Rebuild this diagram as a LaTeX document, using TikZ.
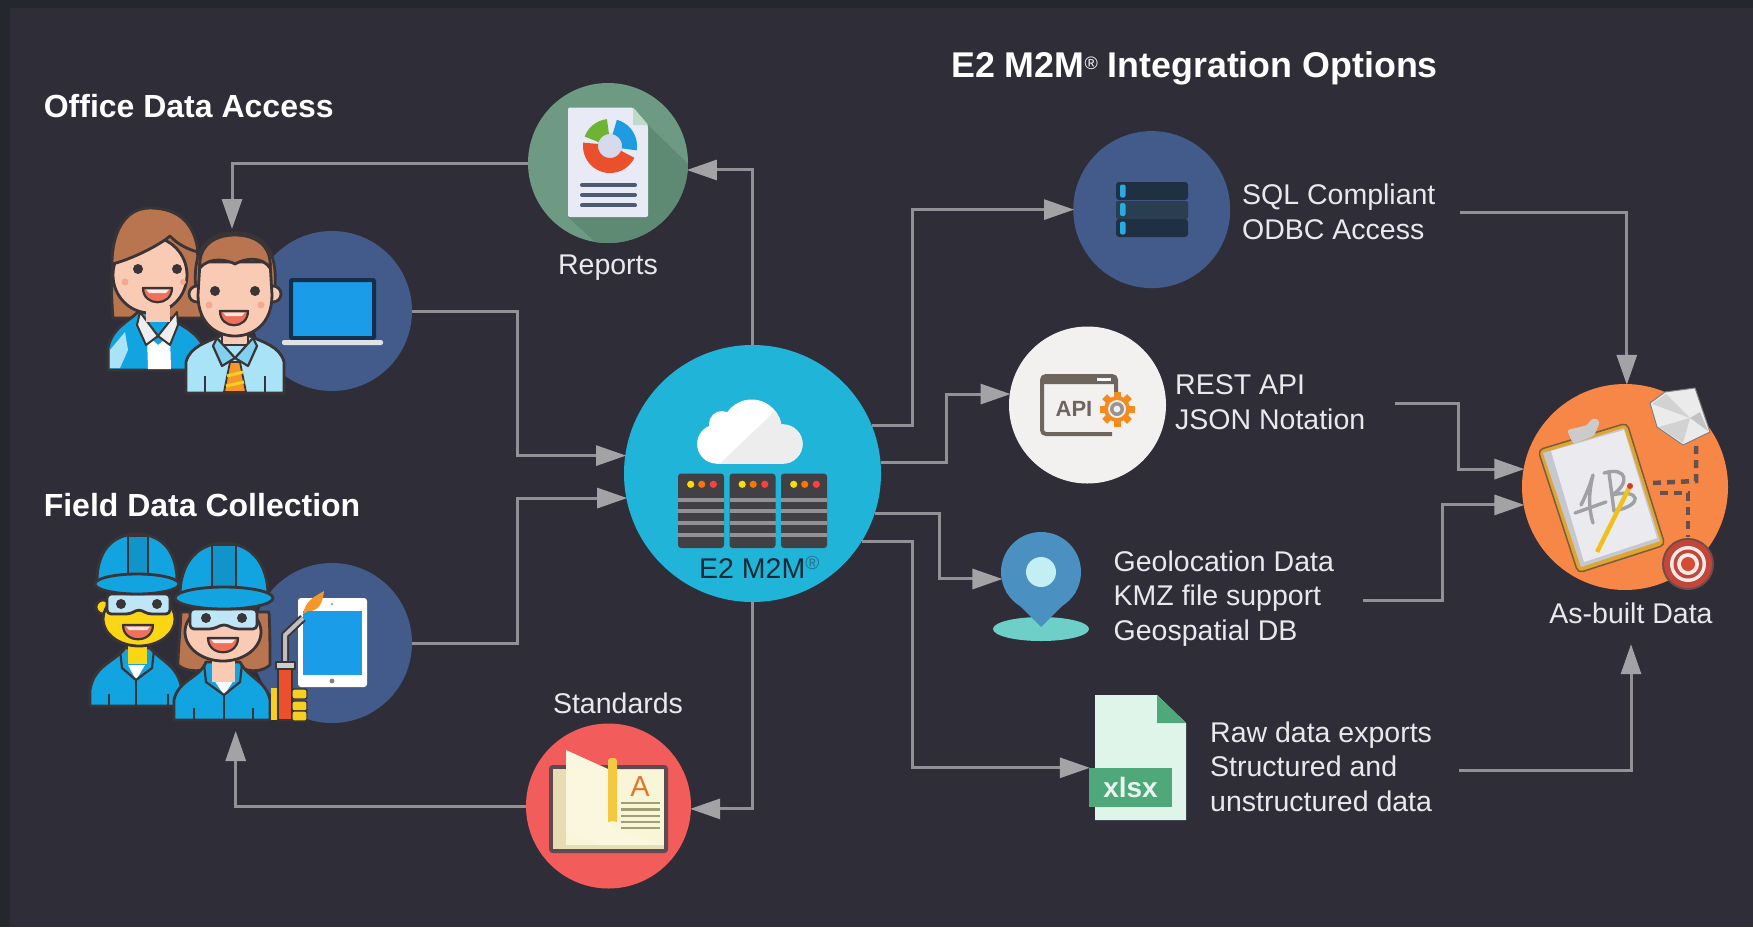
\documentclass[tikz,border=0pt]{standalone}
\usepackage{fontspec}
\setmainfont{Liberation Sans}
\usetikzlibrary{arrows.meta}
\definecolor{bgmain}{HTML}{2F2E38}
\definecolor{bgband}{HTML}{24272B}
\definecolor{wire}{HTML}{919196}
\definecolor{headc}{HTML}{A3A3A5}
\definecolor{txt}{HTML}{E9E9EB}
\definecolor{navy}{HTML}{425B8A}
\definecolor{ink}{HTML}{3B3436}
\definecolor{hair}{HTML}{B97450}
\definecolor{skin}{HTML}{F9CBB5}
\definecolor{jacket}{HTML}{12A4E0}
\definecolor{sky}{HTML}{A9E3F8}
\definecolor{scr}{HTML}{1B9CE8}
\definecolor{mouthc}{HTML}{F0705A}
\definecolor{gold}{HTML}{F5D020}
\definecolor{rackc}{HTML}{404045}
\definecolor{apig}{HTML}{6E665E}
\tikzset{
  x=1pt,y=-1pt,
  disc/.style={circle,inner sep=0pt,minimum size=#1},
  conn/.style={draw=wire,line width=3pt,-{Triangle[length=30pt,width=20pt,color=headc]},shorten >=-1pt},
  lbltext/.style={text=txt,font=\fontsize{28.5}{34.6}\selectfont,inner sep=0pt},
  blocktext/.style={lbltext,align=left,anchor=west},
  headt/.style={text=white,font=\bfseries\fontsize{32}{38}\selectfont,inner sep=0pt},
  outl/.style={draw=ink,line width=2.8pt,line join=round},
  eyedot/.style={fill=ink},
}
\newcommand{\cloudshape}{
  \fill (716.7,444) circle[radius=19.6pt];
  \fill (722,424) circle[radius=13pt];
  \fill (751.7,429.5) circle[radius=30pt];
  \fill (783,444) circle[radius=19.6pt];
  \fill (716,430) rectangle (783,463.6);
}
\newcommand{\rackunit}[1]{
  \fill[fill=rackc,rounded corners=3pt] (#1,473.6) rectangle ++(46,74.4);
  \foreach \yy in {500,511.4,523,535}{\fill[wire] (#1,\yy-2) rectangle ++(46,4);}
  \fill[fill=yellow!80!orange] (#1+12.7,484.3) circle[radius=3.6pt];
  \fill[fill=orange!90!red] (#1+23.7,484.3) circle[radius=3.6pt];
  \fill[fill=red!75!white] (#1+35.3,484.3) circle[radius=3.6pt];
}
\newcommand{\mouthshape}[4]{% x1 y1 x2 y2
  \draw[outl,fill=mouthc,line width=2.2pt] (#1,#2) -- (#3,#2) .. controls (#3,#4) and (#1,#4) .. (#1,#2) -- cycle;
  \fill[white!85!mouthc] (#1+3,#2+1.5) -- (#3-3,#2+1.5) -- (#3-6,#2+5) -- (#1+6,#2+5) -- cycle;
}
\begin{document}
\begin{tikzpicture}
\useasboundingbox (0,0) rectangle (1753,927);
\fill[bgband] (0,0) rectangle (1753,927);
\fill[bgmain] (10,8) rectangle (1753,927);

% --- circles and icons as nodes
\node[disc=160pt,fill=navy] (off) at (332,311) {};
\node[disc=160pt,fill=navy] (tab) at (332,643) {};
\node[disc=160pt,fill={rgb,255:red,110;green,154;blue,131}] (rep) at (608,163) {};
\node[disc=165pt,fill={rgb,255:red,242;green,92;blue,90}] (std) at (608.5,806) {};
\node[disc=257pt,fill={rgb,255:red,32;green,180;blue,216}] (e2) at (752.5,473.5) {};
\node[disc=157pt,fill=navy] (sql) at (1151.7,209.6) {};
\node[disc=157pt,fill={rgb,255:red,242;green,241;blue,239}] (api) at (1087.5,405) {};
\node[disc=206pt,fill={rgb,255:red,247;green,135;blue,70}] (ab) at (1625,487) {};

% --- text
\node[headt,anchor=west] (h1) at (43.6,106) {Office Data Access};
\node[headt,anchor=west] (h2) at (43.6,505) {Field Data Collection};
\node[headt,anchor=base west,font=\bfseries\fontsize{35.8}{40}\selectfont] (h3) at (951,77) {E2 M2M\raisebox{8pt}{\mdseries\fontsize{18}{18}\selectfont ®} Integration Options};
\node[lbltext] (lrep) at (608,268) {Reports};
\node[lbltext] (lstd) at (618,703) {Standards};
\node[blocktext] (tsql) at (1242,211.7) {SQL Compliant\\ODBC Access};
\node[blocktext] (tapi) at (1175,402) {REST API\\JSON Notation};
\node[blocktext] (tgeo) at (1113.5,598.5) {Geolocation Data\\KMZ file support\\Geospatial DB};
\node[blocktext] (txls) at (1210,766.5) {Raw data exports\\Structured and\\unstructured data};
\node[lbltext,minimum height=64pt] (lab) at (1631,613) {As-built Data};

% --- Reports icon
\begin{scope}
\clip (608,163) circle[radius=80pt];
\fill[fill={rgb,255:red,94;green,137;blue,114}] (648,125) -- (720,195) -- (720,270) -- (625,270) -- (568,217) -- (648,217) -- cycle;
\end{scope}
\fill[fill={rgb,255:red,232;green,234;blue,246},rounded corners=2pt] (568,107.5) -- (633,107.5) -- (648,125) -- (648,217) -- (568,217) -- cycle;
\fill[fill={rgb,255:red,190;green,218;blue,200}] (633,107.5) -- (648,125) -- (633,125) -- cycle;
\fill[fill={rgb,255:red,213;green,218;blue,236}] (610,146) circle[radius=13pt];
\draw[line width=15pt,color={rgb,255:red,235;green,80;blue,45}] plot[domain=172:335,samples=30] ({610+19.5*cos(\x)},{146-19.5*sin(\x)});
\draw[line width=15pt,color={rgb,255:red,30;green,155;blue,225}] plot[domain=-10:76,samples=20] ({610+19.5*cos(\x)},{146-19.5*sin(\x)});
\draw[line width=15pt,color={rgb,255:red,110;green,180;blue,50}] plot[domain=96:160,samples=20] ({610+19.5*cos(\x)},{146-19.5*sin(\x)});
\foreach \yy in {185,195,205.4}{\draw[line width=4pt,color={rgb,255:red,78;green,90;blue,112},line cap=round] (582,\yy) -- (635,\yy);}

% --- Standards icon
\draw[draw={rgb,255:red,94;green,74;blue,80},line width=4pt,fill={rgb,255:red,249;green,245;blue,215},rounded corners=2pt] (551,767) rectangle (666,851);
\fill[fill={rgb,255:red,232;green,220;blue,178}] (553,769) rectangle (566,845);
\fill[fill={rgb,255:red,228;green,222;blue,180}] (553,845) rectangle (664,849);
\fill[fill={rgb,255:red,251;green,247;blue,222}] (566,750) -- (608,769) -- (608,822) -- (620,830) -- (664,845) -- (600,845) -- (566,830) -- cycle;
\fill[fill={rgb,255:red,245;green,200;blue,66},rounded corners=3pt] (608,758) rectangle (617,820);
\fill[fill={rgb,255:red,245;green,200;blue,66}] (608,815) -- (617,815) -- (617,822) -- (612.5,821) -- (608,822) -- cycle;
\node[inner sep=0pt,text={rgb,255:red,226;green,119;blue,44},font=\fontsize{29}{29}\selectfont] (aa) at (640,787) {A};
\foreach \yy in {803,809.5,816,822,828}{\draw[line width=2.6pt,color={rgb,255:red,160;green,158;blue,118}] (621,\yy) -- (660,\yy);}

% --- E2 icon
\begin{scope}[fill=white]\cloudshape\end{scope}
\begin{scope}
\clip (780,406) -- (720,464) -- (810,464) -- (810,395) -- cycle;
\begin{scope}[fill={rgb,255:red,237;green,237;blue,237}]\cloudshape\end{scope}
\end{scope}
\rackunit{678}\rackunit{729.5}\rackunit{781}
\node[anchor=base west,inner sep=0pt,text={rgb,255:red,18;green,42;blue,56},font=\fontsize{28.5}{30}\selectfont] (le2) at (699,578.5) {E2 M2M\raisebox{9pt}{\fontsize{19}{19}\selectfont\color{rgb,255:red,40;green,110;blue,140}®}};

% --- SQL icon
\fill[fill={rgb,255:red,30;green,48;blue,66},rounded corners=3pt] (1116,182) rectangle (1188,200);
\fill[fill={rgb,255:red,42;green,62;blue,82},rounded corners=2pt] (1116,201) rectangle (1188,219);
\fill[fill={rgb,255:red,30;green,48;blue,66},rounded corners=3pt] (1116,219) rectangle (1188,237);
\foreach \yy in {191,209.5,228}{\fill[fill={rgb,255:red,41;green,171;blue,226},rounded corners=2pt] (1120,\yy-6.5) rectangle ++(5.5,13);}

% --- API icon
\draw[apig,line width=4pt,rounded corners=4pt] (1112,434) -- (1042,434) -- (1042,376) -- (1116,376) -- (1116,392);
\fill[apig,rounded corners=3pt] (1041,375) rectangle (1117,384);
\fill[white] (1097,377.5) rectangle (1111,381);
\node[inner sep=0pt,text=apig,font=\bfseries\fontsize{22}{22}\selectfont] (apit) at (1074,409) {API};
\fill[fill={rgb,255:red,245;green,138;blue,31}] (1117,409) circle[radius=13pt];
\foreach \a in {0,45,...,315}{\fill[fill={rgb,255:red,245;green,138;blue,31},rotate around={\a:(1117,409)}] (1113.5,391.5) rectangle (1120.5,400);}
\fill[fill={rgb,255:red,242;green,241;blue,239}] (1117,409) circle[radius=9pt];
\fill[apig!70!white] (1117,409) circle[radius=7pt];
\fill[fill={rgb,255:red,242;green,241;blue,239}] (1117,409) circle[radius=3.4pt];

% --- Pin
\fill[fill={rgb,255:red,110;green,207;blue,200}] (1041,629) ellipse (48 and 12);
\node[disc=80pt,fill={rgb,255:red,74;green,144;blue,192}] (pin) at (1041,572) {};
\fill[fill={rgb,255:red,74;green,144;blue,192}] (1006,592) -- (1041,627) -- (1076,592) -- cycle;
\fill[fill={rgb,255:red,195;green,238;blue,244}] (1041,572) circle[radius=15pt];

% --- xlsx
\fill[fill={rgb,255:red,223;green,245;blue,234}] (1095,695) -- (1157,695) -- (1186,723) -- (1186,820) -- (1095,820) -- cycle;
\fill[fill={rgb,255:red,79;green,168;blue,122}] (1157,695) -- (1186,723) -- (1157,723) -- cycle;
\node[fill={rgb,255:red,79;green,168;blue,122},inner sep=0pt,minimum width=83pt,minimum height=39pt,text={rgb,255:red,231;green,246;blue,238},font=\bfseries\fontsize{28}{28}\selectfont] (xl) at (1130.5,787.5) {xlsx};

% --- Laptop
\draw[draw={rgb,255:red,18;green,48;blue,78},line width=4pt,fill=scr,rounded corners=1pt] (291,280) rectangle (374,338);
\fill[fill={rgb,255:red,223;green,227;blue,232},rounded corners=2pt] (282,340) rectangle (383,345);
% office woman
\draw[outl,fill=hair] (113,318) .. controls (110,280) and (108,208) .. (150,208) .. controls (185,208) and (198,235) .. (198,262) -- (202,318) -- cycle;
\draw[outl,fill=jacket] (108,370) -- (108,348) .. controls (112,328) and (128,322) .. (138,312) -- (160,312) .. controls (172,322) and (196,328) .. (204,348) -- (204,370) -- cycle;
\fill[fill=sky] (110,368) -- (110,350) -- (125,332) -- (128,350) -- (120,368) -- cycle;
\fill[white] (147,335) -- (158,345) -- (170,335) -- (171,369) -- (148,369) -- cycle;
\draw[outl,line width=2pt,fill={rgb,255:red,238;green,238;blue,238}] (140,312) -- (158,336) -- (146,345) -- (137,325) -- cycle;
\draw[outl,line width=2pt,fill={rgb,255:red,238;green,238;blue,238}] (177,312) -- (158,336) -- (170,345) -- (178,325) -- cycle;
\draw[outl,fill=skin] (150,275) ellipse (37 and 38);
\fill[fill=skin] (146,306) rectangle (170,322);
\draw[outl,fill=hair] (112,264) .. controls (130,260) and (160,245) .. (170,236) .. controls (178,245) and (190,250) .. (198,252) .. controls (195,225) and (180,208) .. (150,208) .. controls (125,208) and (112,232) .. (112,264) -- cycle;
\fill[eyedot] (138,269) circle[radius=5pt]; \fill[eyedot] (177,269) circle[radius=5pt];
\mouthshape{143}{288}{172}{307}
\fill[fill=mouthc!40!skin] (125,282) circle[radius=3.5pt]; \fill[fill=mouthc!40!skin] (183,282) circle[radius=3pt];
% office man
\draw[outl,fill=sky] (186,393) -- (186,362) .. controls (190,346) and (208,342) .. (220,336) -- (250,336) .. controls (262,342) and (280,346) .. (284,362) -- (284,393) -- cycle;
\draw[draw=ink,line width=2.4pt] (205,393) -- (205,376); \draw[draw=ink,line width=2.4pt] (265,393) -- (265,376);
\draw[outl,fill=skin] (222,320) rectangle (248,345);
\draw[outl,line width=2.2pt,fill={rgb,255:red,130;green,208;blue,240}] (217,338) -- (235,358) -- (222,366) -- (213,346) -- cycle;
\draw[outl,line width=2.2pt,fill={rgb,255:red,130;green,208;blue,240}] (253,338) -- (235,358) -- (248,366) -- (257,346) -- cycle;
\draw[outl,line width=1.8pt,fill={rgb,255:red,245;green,150;blue,40}] (230,362) -- (240,362) -- (246,392) -- (224,392) -- cycle;
\draw[gold,line width=3pt] (227,376) -- (243,372); \draw[gold,line width=3pt] (226,386) -- (244,382);
\draw[outl,fill=hair] (197,300) .. controls (190,250) and (205,233) .. (235,233) .. controls (265,233) and (280,250) .. (274,300) -- cycle;
\draw[outl,fill=skin] (197,294) ellipse (8 and 8); \draw[outl,fill=skin] (273,294) ellipse (8 and 8);
\draw[outl,fill=skin] (200,262) -- (270,262) -- (272,295) .. controls (272,325) and (252,336) .. (235,336) .. controls (218,336) and (198,325) .. (198,295) -- cycle;
\draw[outl,fill=hair] (200,268) .. controls (210,256) and (228,260) .. (235,264) .. controls (245,258) and (262,256) .. (270,268) .. controls (272,248) and (258,235) .. (235,235) .. controls (212,235) and (198,248) .. (200,268) -- cycle;
\fill[eyedot] (215,291) circle[radius=5pt]; \fill[eyedot] (255,291) circle[radius=5pt];
\mouthshape{220}{311}{248}{330}
\fill[fill=mouthc!40!skin] (209,305) circle[radius=3.5pt]; \fill[fill=mouthc!40!skin] (261,305) circle[radius=3.5pt];

% --- Tablet
\fill[white,rounded corners=3pt] (298,598) rectangle (367,687);
\fill[fill=scr] (303,611) rectangle (362,675);
\fill[gray!60] (332,604) circle[radius=1.5pt]; \fill[gray] (332,681) circle[radius=2.4pt];
% worker 1
\draw[outl,fill=jacket] (90,706) -- (90,690) .. controls (94,665) and (115,662) .. (125,648) -- (150,648) .. controls (162,662) and (178,665) .. (182,690) -- (182,706) -- cycle;
\fill[white] (128,665) -- (136,680) -- (145,665) -- cycle;
\draw[draw=ink,line width=2.2pt] (136,680) -- (136,706); \draw[draw=ink,line width=2.2pt] (109,706) -- (109,694); \draw[draw=ink,line width=2.2pt] (168,706) -- (168,694);
\draw[draw=ink,line width=2.2pt] (120,650) -- (122,668) -- (136,680) -- (152,668) -- (154,650);
\fill[fill={rgb,255:red,250;green,214;blue,20}] (128,645) rectangle (147,664);
\draw[outl,fill={rgb,255:red,250;green,214;blue,20}] (103,607) circle[radius=7pt];
\draw[outl,fill={rgb,255:red,250;green,214;blue,20}] (139,619) ellipse (36 and 27);
\draw[outl,fill={rgb,255:red,190;green,230;blue,246},rounded corners=4pt] (107,594) -- (170,594) -- (170,614) -- (148,614) -- (139,609) -- (130,614) -- (107,614) -- cycle;
\fill[eyedot] (121,604) circle[radius=5pt]; \fill[eyedot] (157,604) circle[radius=5pt];
\mouthshape{123}{625}{153}{644}
\draw[outl,fill=jacket] (97,582) .. controls (97,545) and (118,534) .. (137,534) .. controls (156,534) and (177,545) .. (177,582) -- cycle;
\draw[draw=ink,line width=2.4pt,fill=jacket!90!black] (128,536) rectangle (148,578);
\draw[outl,fill=jacket] (137,584) ellipse (42 and 10);
% worker 2
\draw[outl,fill=hair] (181,612) .. controls (180,635) and (178,650) .. (178,665) .. controls (186,672) and (200,672) .. (208,668) -- (242,668) .. controls (250,672) and (262,672) .. (270,665) .. controls (270,650) and (270,630) .. (269,612) -- cycle;
\draw[outl,fill=jacket] (174,720) -- (174,700) .. controls (178,680) and (200,678) .. (206,662) -- (240,662) .. controls (248,678) and (266,680) .. (270,700) -- (270,720) -- cycle;
\fill[white] (214,680) -- (224,695) -- (234,680) -- cycle;
\draw[draw=ink,line width=2.2pt] (224,695) -- (224,720); \draw[draw=ink,line width=2.2pt] (194,720) -- (194,708); \draw[draw=ink,line width=2.2pt] (253,720) -- (253,708);
\draw[draw=ink,line width=2.2pt] (204,664) -- (206,682) -- (224,695) -- (240,682) -- (242,664);
\fill[fill=skin] (212,660) rectangle (235,682);
\draw[outl,fill=skin] (223,632) ellipse (38 and 29);
\draw[outl,fill={rgb,255:red,190;green,230;blue,246},rounded corners=4pt] (190,609) -- (257,609) -- (257,629) -- (235,629) -- (224,624) -- (213,629) -- (190,629) -- cycle;
\fill[eyedot] (206,618) circle[radius=5pt]; \fill[eyedot] (242,618) circle[radius=5pt];
\mouthshape{208}{638}{238}{657}
\draw[outl,fill=jacket] (180,596) .. controls (180,560) and (200,543) .. (224,543) .. controls (248,543) and (268,560) .. (268,596) -- cycle;
\draw[draw=ink,line width=2.4pt,fill=jacket!90!black] (212,545) rectangle (236,592);
\draw[outl,fill=jacket] (224,598) ellipse (49 and 11);
% torch
\draw[line width=8pt,color=ink,line join=round] (285,662) -- (285,635) -- (303,618);
\draw[line width=4pt,color={rgb,255:red,190;green,190;blue,195},line join=round] (285,662) -- (285,635) -- (303,618);
\fill[fill={rgb,255:red,245;green,150;blue,40}] (303,614) .. controls (306,600) and (314,597) .. (324,591) .. controls (323,603) and (318,612) .. (308,611) -- cycle;
\draw[outl,line width=1.6pt,fill={rgb,255:red,235;green,80;blue,45}] (278,668) rectangle (292,720);
\draw[outl,line width=1.6pt,fill={rgb,255:red,205;green,205;blue,205}] (276,662) rectangle (295,669);
\fill[gold] (271,688) rectangle (277,720);
\foreach \yy in {695,707,717}{\draw[draw=ink,line width=1.4pt,fill=gold,rounded corners=2pt] (292,\yy-6) rectangle (307,\yy+4);}

% --- As-built icon
\draw[draw={rgb,255:red,120;green,95;blue,60},line width=1.5pt,fill={rgb,255:red,222;green,164;blue,52},rounded corners=5pt] (1538,450) -- (1627,423) -- (1665,545) -- (1578,573) -- cycle;
\fill[fill={rgb,255:red,198;green,200;blue,208}] (1543,453) -- (1624,428) -- (1660,541) -- (1581,567) -- cycle;
\fill[fill={rgb,255:red,234;green,234;blue,239}] (1551,451) -- (1624,430) -- (1657,538) -- (1584,562) -- cycle;
\fill[fill={rgb,255:red,203;green,203;blue,203},rounded corners=3pt] (1567,430) -- (1588,425) -- (1590,420) -- (1596,418) -- (1600,422) -- (1594,436) -- (1573,444) -- cycle;
\begin{scope}[draw={rgb,255:red,160;green,160;blue,165},line width=3.4pt,line join=round,line cap=round]
\draw (1581,505) .. controls (1586,495) and (1590,485) .. (1593,475) .. controls (1588,495) and (1589,510) .. (1593,523);
\draw (1575,513) -- (1606,502);
\draw (1604,473) .. controls (1628,466) and (1630,484) .. (1612,495) .. controls (1640,488) and (1645,505) .. (1614,511) -- (1609,473);
\end{scope}
\draw[line width=4.5pt,color={rgb,255:red,238;green,192;blue,32}] (1597,552) -- (1629,488);
\fill[fill={rgb,255:red,210;green,60;blue,40}] (1630,486) circle[radius=3pt];
\draw[draw={rgb,255:red,130;green,126;blue,126},line width=1pt,fill={rgb,255:red,235;green,235;blue,235},line join=round] (1665,392) -- (1695,388) -- (1710,432) -- (1683,445) -- (1657,427) -- (1650,403) -- cycle;
\fill[fill={rgb,255:red,210;green,210;blue,210}] (1652,404) -- (1690,418) -- (1666,394) -- cycle;
\fill[fill={rgb,255:red,210;green,210;blue,210}] (1659,427) -- (1690,418) -- (1683,443) -- cycle;
\fill[fill={rgb,255:red,195;green,195;blue,195}] (1690,418) -- (1708,431) -- (1700,412) -- cycle;
\draw[draw={rgb,255:red,102;green,81;blue,78},line width=4.5pt,dash pattern=on 8pt off 6pt] (1696,446) -- (1696,481) -- (1652,483);
\draw[draw={rgb,255:red,102;green,81;blue,78},line width=4.5pt,dash pattern=on 8pt off 6pt] (1660,493) -- (1688,493) -- (1688,537);
\fill[fill={rgb,255:red,110;green,78;blue,72}] (1688,564) circle[radius=26pt];
\fill[fill={rgb,255:red,196;green,69;blue,58}] (1688,564) circle[radius=24pt];
\fill[fill={rgb,255:red,242;green,236;blue,230}] (1688,564) circle[radius=18pt];
\fill[fill={rgb,255:red,196;green,69;blue,58}] (1688,564) circle[radius=14.5pt];
\fill[fill={rgb,255:red,242;green,236;blue,230}] (1688,564) circle[radius=11pt];
\fill[fill={rgb,255:red,216;green,74;blue,50}] (1688,564) circle[radius=7pt];

% --- connectors
\coordinate (ofip) at (232,228);
\coordinate (fdip) at (235.7,732);
\coordinate (sqlout) at (1460,212);
\coordinate (apiout) at (1395,403.6);
\coordinate (geoout) at (1363,600);
\coordinate (xlsout) at (1459,770);
\draw[conn] (off.east) -- ++(105,0) |- (e2.172.3);
\draw[conn] (tab.east) -- ++(105,0) |- (e2.191.4);
\draw[conn] (rep.west) -| (ofip);
\draw[conn] (e2.north) |- (rep.-5.6);
\draw[conn] (e2.south) |- (std.-2.8);
\draw[conn] (std.west) -| (fdip);
\draw[conn] (e2.22.3) -- ++(40.5,0) |- (sql.west);
\draw[conn] (e2.5.2) -- ++(65.5,0) |- (api.172);
\draw[conn] (e2.-18.6) -- ++(65,0) |- (pin.190);
\draw[conn] (e2.-32.1) -- ++(51,0) |- (xl.north west);
\draw[conn] (sqlout) -| (ab.89);
\draw[conn] (apiout) -- ++(63,0) |- (ab.170.5);
\draw[conn] (geoout) -- ++(79,0) |- (ab.190);
\draw[conn] (xlsout) -| (lab.south);
\end{tikzpicture}
\end{document}
